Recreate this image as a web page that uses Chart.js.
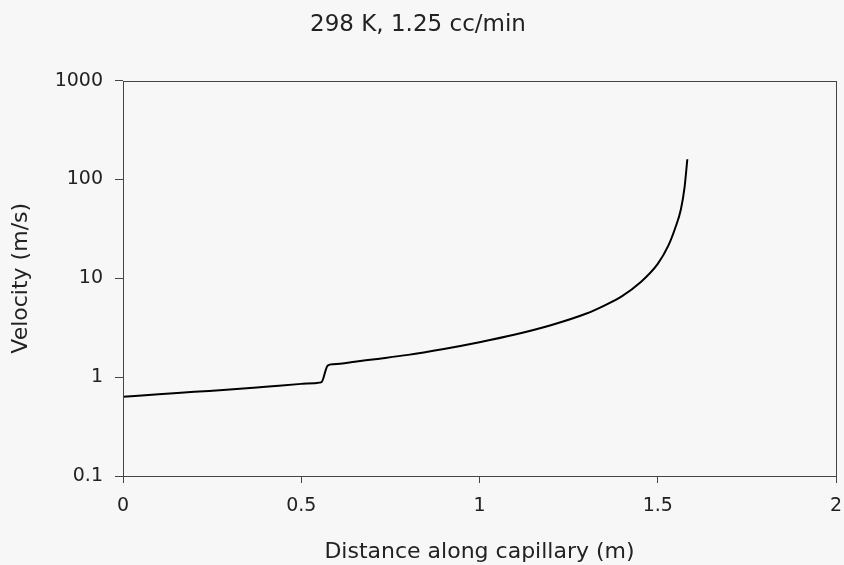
<!DOCTYPE html>
<html>
<head>
<meta charset="utf-8">
<script src="https://cdn.jsdelivr.net/npm/chart.js@4"></script>
<style>
  html, body { margin: 0; padding: 0; background: #f7f7f7; }
  #wrap { width: 844px; height: 565px; }
</style>
</head>
<body>
<div id="wrap"><canvas id="velocityChart" width="844" height="565"></canvas></div>
<script>
// Dados
const chartTitle = '298 K, 1.25 cc/min';
const distance = [0, 0.1, 0.2, 0.3, 0.4, 0.5, 0.545, 0.557, 0.574, 0.59, 0.65, 0.7, 0.8, 0.9, 1.0, 1.1, 1.2, 1.3, 1.35, 1.4, 1.45, 1.5, 1.53, 1.55, 1.565, 1.575, 1.583];
const velocity = [0.635, 0.67, 0.71, 0.75, 0.80, 0.855, 0.875, 0.89, 1.31, 1.35, 1.43, 1.51, 1.68, 1.93, 2.26, 2.7, 3.35, 4.4, 5.3, 6.6, 9.0, 14, 21.5, 33, 50, 82, 160];
const xTicks = [0, 0.5, 1, 1.5, 2];
const yTicks = [0.1, 1, 10, 100, 1000];
const yTickLabels = ['0.1', '1', '10', '100', '1000'];

const FONT = 'DejaVu Sans, Verdana, sans-serif';

// Moldura em volta da área do gráfico
const frame = {
    id: 'frame',
    afterDatasetsDraw(chart) {
        const a = chart.chartArea;
        const ctx = chart.ctx;
        ctx.save();
        ctx.strokeStyle = '#444';
        ctx.lineWidth = 1;
        ctx.strokeRect(Math.round(a.left) + 0.5, Math.round(a.top) + 0.5,
            Math.round(a.right - a.left), Math.round(a.bottom - a.top));
        ctx.restore();
    }
};

new Chart(document.getElementById('velocityChart'), {
    type: 'line',
    data: {
        datasets: [{
            data: distance.map((d, i) => ({ x: d, y: velocity[i] })),
            borderColor: '#000',
            borderWidth: 2,
            pointRadius: 0,
            fill: false,
            cubicInterpolationMode: 'monotone'
        }]
    },
    options: {
        responsive: false,
        animation: false,
        layout: { padding: { left: 0, right: 8, top: 0, bottom: 0 } },
        plugins: {
            legend: { display: false },
            tooltip: { enabled: false },
            title: {
                display: true,
                text: chartTitle,
                color: '#222',
                font: { family: FONT, size: 23, weight: 'normal' },
                padding: { top: 11, bottom: 42 }
            }
        },
        scales: {
            x: {
                type: 'linear',
                min: 0,
                max: 2,
                afterBuildTicks: s => { s.ticks = xTicks.map(v => ({ value: v })); },
                afterFit: s => { s.height = 89; s.paddingLeft = 0; s.paddingRight = 0; },
                ticks: {
                    color: '#222',
                    font: { family: FONT, size: 19 },
                    padding: 12,
                    maxRotation: 0,
                    callback: v => String(v)
                },
                grid: { drawOnChartArea: false, tickLength: 7, color: '#444' },
                border: { display: false },
                title: {
                    display: true,
                    text: 'Distance along capillary (m)',
                    color: '#222',
                    font: { family: FONT, size: 22 },
                    padding: { top: 0, bottom: 0 }
                }
            },
            y: {
                type: 'logarithmic',
                min: 0.1,
                max: 1000,
                afterBuildTicks: s => { s.ticks = yTicks.map(v => ({ value: v })); },
                afterFit: s => { s.width = 123; },
                ticks: {
                    color: '#222',
                    font: { family: FONT, size: 19 },
                    padding: 12,
                    callback: (v, i) => yTickLabels[i]
                },
                grid: { drawOnChartArea: false, tickLength: 8, color: '#444' },
                border: { display: false },
                title: {
                    display: true,
                    text: 'Velocity (m/s)',
                    color: '#222',
                    font: { family: FONT, size: 22 },
                    padding: { top: 8, bottom: 0 }
                }
            }
        }
    },
    plugins: [frame]
});
</script>
</body>
</html>
